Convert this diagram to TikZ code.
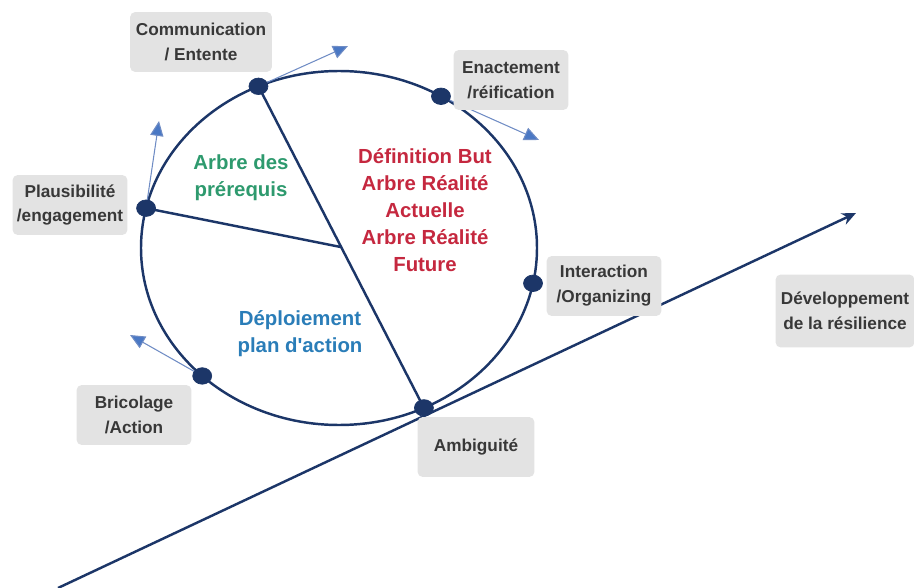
\documentclass[tikz,border=0pt]{standalone}
\usepackage{tikz}
\usepackage{amsmath}
\usepackage{fontspec}
\setmainfont{Liberation Sans}
\usetikzlibrary{arrows.meta,shapes.geometric,calc}
\definecolor{marine}{HTML}{1C3668}
\definecolor{fleche}{HTML}{4A78C4}
\definecolor{trait}{HTML}{6F8CC4}
\definecolor{fond}{HTML}{E3E3E3}
\definecolor{gris}{HTML}{383838}
\definecolor{rouge}{HTML}{C5283F}
\definecolor{vert}{HTML}{2E9A6E}
\definecolor{bleu}{HTML}{2A7DB8}
\tikzset{
	point/.style={draw=marine, fill=marine, ellipse, inner sep=0pt, minimum width=0.38cm, minimum height=0.33cm},
	etiquette/.style={fill=fond, rounded corners=3pt, text=gris, align=center, inner sep=0pt, minimum height=1.2cm, font=\bfseries\fontsize{9.8}{14.2}\selectfont},
	centre/.style={align=center, font=\bfseries\fontsize{11.6}{15.4}\selectfont},
	tangente/.style={draw=trait, line width=0.6pt, -{Triangle[length=8.5pt, width=7.5pt, fill=fleche]}},
}
\begin{document}
\begin{tikzpicture}[x=0.02cm, y=-0.02cm]
			\useasboundingbox (0,0) rectangle (914,588);
			\coordinate (O)at(339, 248);
			\draw[marine, line width=1.4pt] (O) ellipse [x radius=198, y radius=177];
			\coordinate (C)at($(O)+(246:198 and 177)$);
			\coordinate (E)at($(O)+(301:198 and 177)$);
			\coordinate (P)at($(O)+(193:198 and 177)$);
			\coordinate (I)at($(O)+(11.5:198 and 177)$);
			\coordinate (A)at($(O)+(64.6:198 and 177)$);
			\coordinate (B)at($(O)+(133.7:198 and 177)$);
			\coordinate (M)at($(C)!0.5!(A)$);
			\coordinate (tC)at(348, 46);
			\coordinate (tE)at(539, 140);
			\coordinate (tP)at(159, 121);
			\coordinate (tB)at(130, 335);
			\coordinate (D)at(58, 588);
			\coordinate (F)at(856, 213);
			\draw[marine, line width=1.4pt] (C) -- (A);
			\draw[marine, line width=1.4pt] (P) -- (M);
			\draw[marine, line width=1.4pt, -{Stealth[length=8pt, width=7pt]}] (D) -- (F);
			\draw[tangente] (C) -- (tC);
			\draw[tangente] (E) -- (tE);
			\draw[tangente] (P) -- (tP);
			\draw[tangente] (B) -- (tB);
			\node[point] (nC)at(C) {};
			\node[point] (nE)at(E) {};
			\node[point] (nP)at(P) {};
			\node[point] (nI)at(I) {};
			\node[point] (nA)at(A) {};
			\node[point] (nB)at(B) {};
			\node[etiquette, minimum width=2.84cm] (lC)at(201, 42) {Communication\\/ Entente};
			\node[etiquette, minimum width=2.3cm] (lE)at(511, 80) {Enactement\\/réification};
			\node[etiquette, minimum width=2.3cm] (lP)at(70, 205) {Plausibilité\\/engagement};
			\node[etiquette, minimum width=2.3cm] (lI)at(604, 286) {Interaction\\/Organizing};
			\node[etiquette, minimum width=2.3cm] (lB)at(134, 415) {Bricolage\\/Action};
			\node[etiquette, minimum width=2.34cm] (lA)at(476, 447) {Ambiguité};
			\node[etiquette, minimum width=2.78cm, minimum height=1.46cm] (lD)at(845, 311) {Développement\\de la résilience};
			\node[centre, text=rouge] (zR)at(425, 210) {Définition But\\Arbre Réalité\\Actuelle\\Arbre Réalité\\Future};
			\node[centre, text=vert] (zV)at(241, 178) {Arbre des\\prérequis};
			\node[centre, text=bleu] (zB)at(300, 334) {Déploiement\\plan d\textquotesingle action};
		\end{tikzpicture}
\end{document}
